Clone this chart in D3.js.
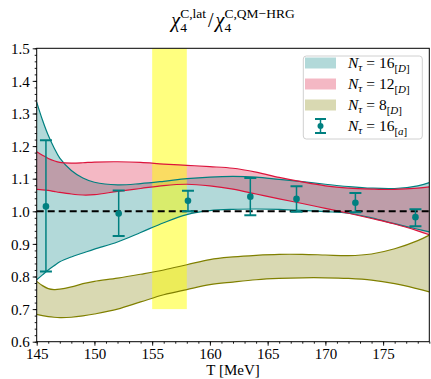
<!DOCTYPE html>
<html>
<head>
<meta charset="utf-8">
<script src="https://cdn.jsdelivr.net/npm/d3@7/dist/d3.min.js"></script>
<style>
body { margin: 0; background: #fff; }
svg text { font-family: "Liberation Serif", "DejaVu Serif", serif; fill: #000; }
</style>
</head>
<body>
<script>
// shared temperature grid for the bands (MeV)
const temps = [145, 145.5, 146, 146.5, 147, 148, 149, 150, 152, 154, 156, 158, 160, 162, 164, 166, 168, 170, 172, 174, 176, 178, 179]

// N_tau = 16 [D]
const nt16Hi = [1.335, 1.28, 1.233, 1.195, 1.163, 1.125, 1.102, 1.089, 1.081, 1.085, 1.092, 1.100, 1.105, 1.107, 1.105, 1.098, 1.091, 1.083, 1.076, 1.071, 1.070, 1.078, 1.088]
const nt16Lo = [0.790, 0.805, 0.820, 0.833, 0.845, 0.860, 0.872, 0.884, 0.906, 0.935, 0.965, 0.990, 1.002, 1.006, 1.007, 1.006, 1.003, 0.999, 0.994, 0.980, 0.962, 0.945, 0.937]
// N_tau = 12 [D]
const nt12Hi = [1.183, 1.172, 1.162, 1.155, 1.150, 1.148, 1.149, 1.151, 1.152, 1.150, 1.145, 1.141, 1.137, 1.132, 1.120, 1.104, 1.090, 1.078, 1.071, 1.068, 1.067, 1.071, 1.075]
const nt12Lo = [1.067, 1.066, 1.064, 1.061, 1.058, 1.053, 1.050, 1.051, 1.061, 1.070, 1.079, 1.083, 1.078, 1.068, 1.053, 1.038, 1.024, 1.009, 0.994, 0.978, 0.961, 0.940, 0.928]
// N_tau = 8 [D]
const nt8Hi = [0.785, 0.772, 0.763, 0.760, 0.761, 0.768, 0.778, 0.785, 0.795, 0.807, 0.820, 0.836, 0.852, 0.860, 0.865, 0.868, 0.868, 0.866, 0.864, 0.869, 0.885, 0.910, 0.927]
const nt8Lo = [0.684, 0.680, 0.677, 0.675, 0.674, 0.675, 0.679, 0.685, 0.700, 0.722, 0.744, 0.760, 0.775, 0.783, 0.790, 0.794, 0.796, 0.796, 0.794, 0.789, 0.778, 0.762, 0.753]

// N_tau = 16 [a] points with errors
const ebT = [145.8, 152.1, 158.1, 163.5, 167.5, 172.6, 177.8]
const ebVal = [1.015, 0.993, 1.032, 1.045, 1.038, 1.026, 0.982]
const ebHi = [1.218, 1.064, 1.063, 1.102, 1.077, 1.056, 1.006]
const ebLo = [0.815, 0.924, 1.000, 0.988, 0.999, 0.997, 0.954]

// highlighted T range and its height
const bandT = [155, 158]
const bandY = [0.7, 1.5]

const xTicks = [145, 150, 155, 160, 165, 170, 175]
const yTicks = [0.6, 0.7, 0.8, 0.9, 1.0, 1.1, 1.2, 1.3, 1.4, 1.5]

const W = 431, H = 379
const pLeft = 36.7, pRight = 429.3, pTop = 48.3, pBottom = 341.7

const svg = d3.select('body').append('svg')
    .attr('width', W)
    .attr('height', H)

const x = d3.scaleLinear().domain([145, 179]).range([pLeft, pRight])
const y = d3.scaleLinear().domain([0.6, 1.5]).range([pBottom, pTop])

svg.append('defs').append('clipPath').attr('id', 'clip')
    .append('rect').attr('x', pLeft).attr('y', pTop).attr('width', pRight - pLeft).attr('height', pBottom - pTop)

const plot = svg.append('g').attr('clip-path', 'url(#clip)')

function band(hi, lo, color) {
    const rows = temps.map((t, i) => ({t: t, hi: hi[i], lo: lo[i]}))
    const area = d3.area().curve(d3.curveCatmullRom)
        .x(d => x(d.t)).y0(d => y(d.lo)).y1(d => y(d.hi))
    plot.append('path').datum(rows)
        .attr('d', area)
        .attr('fill', color)
        .attr('fill-opacity', 0.3)
        .attr('stroke', 'none')
    return rows
}
function edges(rows, color) {
    const lineHi = d3.line().curve(d3.curveCatmullRom).x(d => x(d.t)).y(d => y(d.hi))
    const lineLo = d3.line().curve(d3.curveCatmullRom).x(d => x(d.t)).y(d => y(d.lo))
    plot.append('path').datum(rows).attr('d', lineHi).attr('fill', 'none').attr('stroke', color).attr('stroke-width', 1.2)
    plot.append('path').datum(rows).attr('d', lineLo).attr('fill', 'none').attr('stroke', color).attr('stroke-width', 1.2)
}

const r16 = band(nt16Hi, nt16Lo, 'teal')
const r12 = band(nt12Hi, nt12Lo, 'crimson')
const r8 = band(nt8Hi, nt8Lo, 'olive')

// yellow span
plot.append('rect')
    .attr('x', x(bandT[0]))
    .attr('width', x(bandT[1]) - x(bandT[0]))
    .attr('y', y(bandY[1]))
    .attr('height', y(bandY[0]) - y(bandY[1]))
    .attr('fill', 'yellow')
    .attr('fill-opacity', 0.5)

edges(r16, 'teal')
edges(r12, 'crimson')
edges(r8, 'olive')

// reference line at 1
plot.append('line')
    .attr('x1', pLeft).attr('x2', pRight)
    .attr('y1', y(1)).attr('y2', y(1))
    .attr('stroke', '#000')
    .attr('stroke-width', 2)
    .attr('stroke-dasharray', '7,4')

// error bars
const pts = ebT.map((t, i) => ({t: t, v: ebVal[i], hi: ebHi[i], lo: ebLo[i]}))
const eb = plot.selectAll('g.eb').data(pts).enter().append('g').attr('class', 'eb')
eb.append('line')
    .attr('x1', d => x(d.t)).attr('x2', d => x(d.t))
    .attr('y1', d => y(d.hi)).attr('y2', d => y(d.lo))
    .attr('stroke', 'teal').attr('stroke-width', 1.5)
eb.append('line')
    .attr('x1', d => x(d.t) - 6).attr('x2', d => x(d.t) + 6)
    .attr('y1', d => y(d.hi)).attr('y2', d => y(d.hi))
    .attr('stroke', 'teal').attr('stroke-width', 2)
eb.append('line')
    .attr('x1', d => x(d.t) - 6).attr('x2', d => x(d.t) + 6)
    .attr('y1', d => y(d.lo)).attr('y2', d => y(d.lo))
    .attr('stroke', 'teal').attr('stroke-width', 2)
eb.append('circle')
    .attr('cx', d => x(d.t)).attr('cy', d => y(d.v))
    .attr('r', 3.3).attr('fill', 'teal')

// axes
const xAxis = svg.append('g').attr('transform', 'translate(0,' + pBottom + ')')
    .call(d3.axisBottom(x).tickValues(xTicks).tickSize(4).tickPadding(3).tickFormat(d3.format('d')))
const xMinor = svg.append('g').attr('transform', 'translate(0,' + pBottom + ')')
    .call(d3.axisBottom(x).tickValues(d3.range(145, 180, 1)).tickSize(2).tickFormat(''))
const yAxis = svg.append('g').attr('transform', 'translate(' + pLeft + ',0)')
    .call(d3.axisLeft(y).tickValues(yTicks).tickSize(4).tickPadding(3).tickFormat(d3.format('.1f')))
const yMinor = svg.append('g').attr('transform', 'translate(' + pLeft + ',0)')
    .call(d3.axisLeft(y).tickValues(d3.range(0, 46).map(i => 0.6 + i * 0.02)).tickSize(2).tickFormat(''))

for (const a of [xAxis, xMinor, yAxis, yMinor]) {
    a.select('.domain').remove()
    a.selectAll('text').attr('font-family', '"Liberation Serif", serif').attr('font-size', 15).attr('fill', '#000')
    a.selectAll('line').attr('stroke', '#000').attr('stroke-width', 0.9)
}
yAxis.selectAll('text').attr('dy', '0.35em')

svg.append('rect')
    .attr('x', pLeft).attr('y', pTop)
    .attr('width', pRight - pLeft).attr('height', pBottom - pTop)
    .attr('fill', 'none').attr('stroke', '#000').attr('stroke-width', 1)

svg.append('text')
    .attr('x', (pLeft + pRight) / 2).attr('y', 375)
    .attr('text-anchor', 'middle')
    .attr('font-size', 15)
    .text('T [MeV]')

// math-like text with sub/superscripts
function mathText(parent, pieces, x0, y0, anchor) {
    const g = parent.append('g')
    let cx = 0, stackStart = 0, stackEnd = 0
    for (const p of pieces) {
        const px = p.back ? stackStart : cx
        const t = g.append('text')
            .attr('x', px).attr('y', p.dy || 0)
            .attr('font-size', p.size)
            .attr('font-style', p.it ? 'italic' : 'normal')
            .text(p.t)
        const w = t.node().getComputedTextLength()
        if (p.back) {
            cx = Math.max(stackEnd, px + w)
        } else {
            stackStart = px + w
            cx = px + w
            stackEnd = cx
            if (p.stack) { stackStart = px; stackEnd = px + w }
        }
        if (p.gap) cx += p.gap
    }
    const shift = anchor === 'middle' ? x0 - cx / 2 : x0
    g.attr('transform', 'translate(' + shift + ',' + y0 + ')')
    return g
}

mathText(svg, [
    {t: 'χ', it: true, size: 20},
    {t: 'C,lat', size: 13.5, dy: -9, stack: true},
    {t: '4', size: 13.5, dy: 5, back: true, gap: 2},
    {t: '/', size: 20, gap: 2},
    {t: 'χ', it: true, size: 20},
    {t: 'C,QM−HRG', size: 13.5, dy: -9, stack: true},
    {t: '4', size: 13.5, dy: 5, back: true}
], (pLeft + pRight) / 2, 27, 'middle')

// legend
const lg = svg.append('g')
lg.append('rect')
    .attr('x', 303.3).attr('y', 56).attr('width', 119).attr('height', 83)
    .attr('rx', 3).attr('fill', '#fff').attr('fill-opacity', 0.8)
    .attr('stroke', '#d0d0d0').attr('stroke-width', 1)
const legItems = [
    {color: 'teal', n: '16', tag: 'D'},
    {color: 'crimson', n: '12', tag: 'D'},
    {color: 'olive', n: '8', tag: 'D'},
    {color: 'teal', n: '16', tag: 'a', eb: true}
]
legItems.forEach((d, i) => {
    const cy = 63 + i * 21
    if (d.eb) {
        lg.append('line').attr('x1', 320.5).attr('x2', 320.5).attr('y1', cy - 7).attr('y2', cy + 7)
            .attr('stroke', d.color).attr('stroke-width', 1.5)
        lg.append('line').attr('x1', 315).attr('x2', 326).attr('y1', cy - 7).attr('y2', cy - 7)
            .attr('stroke', d.color).attr('stroke-width', 2)
        lg.append('line').attr('x1', 315).attr('x2', 326).attr('y1', cy + 7).attr('y2', cy + 7)
            .attr('stroke', d.color).attr('stroke-width', 2)
        lg.append('circle').attr('cx', 320.5).attr('cy', cy).attr('r', 3).attr('fill', d.color)
    } else {
        lg.append('rect').attr('x', 305).attr('y', cy - 5.5).attr('width', 31).attr('height', 11)
            .attr('fill', d.color).attr('fill-opacity', 0.3)
    }
    mathText(lg, [
        {t: 'N', it: true, size: 15.5},
        {t: 'τ', it: true, size: 11, dy: 3, gap: 4},
        {t: '= ' + d.n, size: 15.5},
        {t: '[', size: 11, dy: 4},
        {t: d.tag, it: true, size: 11, dy: 4},
        {t: ']', size: 11, dy: 4}
    ], 348, cy + 5, 'start')
})
</script>
</body>
</html>
